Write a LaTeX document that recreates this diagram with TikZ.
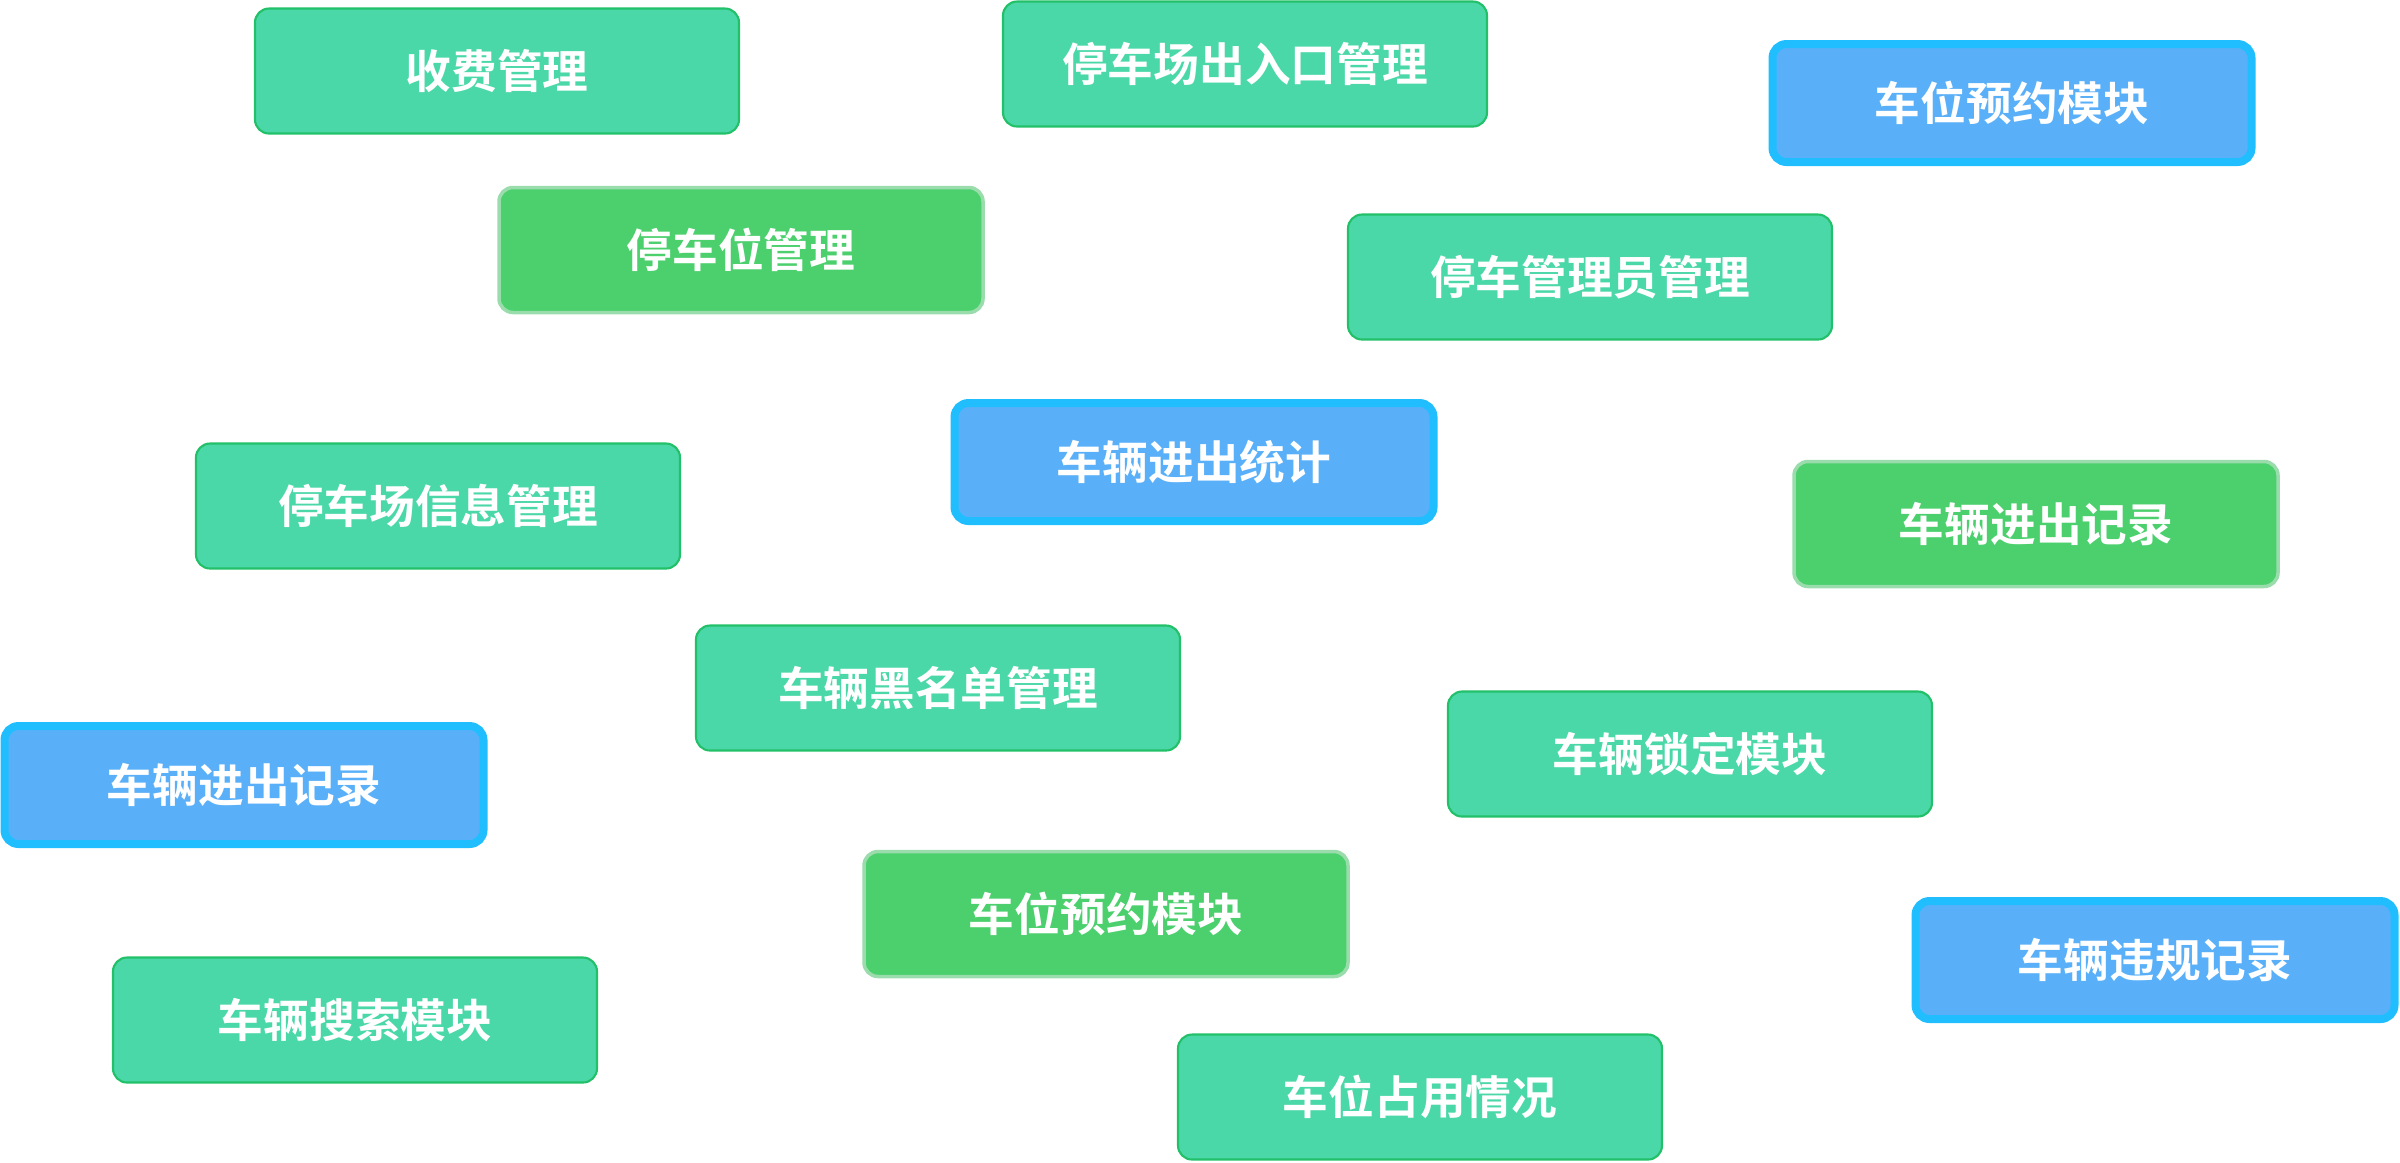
\documentclass[tikz,border=0pt]{standalone}
\usepackage{fontspec}
\newfontfamily\cjk{Noto Sans CJK SC}[BoldFont={Noto Sans CJK SC Bold}]
\definecolor{tealfill}{HTML}{4BD8A8}
\definecolor{tealline}{HTML}{22C068}
\definecolor{greenfill}{HTML}{4CD06E}
\definecolor{greenline}{HTML}{9ADCAC}
\definecolor{bluefill}{HTML}{5AB0F8}
\definecolor{blueline}{HTML}{20BEFF}
\tikzset{
	box/.style = {rounded corners = 0.14cm, text = white, align = center,
		font = \cjk\bfseries\fontsize{13}{15}\selectfont},
	tealbox/.style = {box, fill = tealfill, draw = tealline, line width = 0.6pt,
		minimum width = 4.84cm, minimum height = 1.25cm},
	greenbox/.style = {box, fill = greenfill, draw = greenline, line width = 1pt,
		minimum width = 4.84cm, minimum height = 1.25cm},
	bluebox/.style = {box, fill = bluefill, draw = blueline, line width = 0.08cm,
		minimum width = 4.79cm, minimum height = 1.18cm}
}

\begin{document}
\begin{tikzpicture}
	\useasboundingbox (0,0) rectangle (24,-11.62);

	\node[tealbox] (fee) at (4.97,-0.71) {收费管理};
	\node[tealbox] (gate) at (12.45,-0.64) {停车场出入口管理};
	\node[bluebox] (reserve) at (20.12,-1.03) {车位预约模块};
	\node[greenbox] (space) at (7.41,-2.50) {停车位管理};
	\node[tealbox] (admin) at (15.90,-2.77) {停车管理员管理};

	\node[bluebox] (stats) at (11.94,-4.62) {车辆进出统计};
	\node[tealbox] (info) at (4.38,-5.06) {停车场信息管理};
	\node[greenbox] (record) at (20.36,-5.24) {车辆进出记录};

	\node[tealbox] (black) at (9.38,-6.88) {车辆黑名单管理};
	\node[tealbox] (lock) at (16.90,-7.54) {车辆锁定模块};
	\node[bluebox] (recordb) at (2.44,-7.85) {车辆进出记录};

	\node[greenbox] (reserveb) at (11.06,-9.14) {车位预约模块};
	\node[bluebox] (violate) at (21.55,-9.60) {车辆违规记录};
	\node[tealbox] (search) at (3.55,-10.20) {车辆搜索模块};
	\node[tealbox] (occupy) at (14.20,-10.97) {车位占用情况};
\end{tikzpicture}
\end{document}
